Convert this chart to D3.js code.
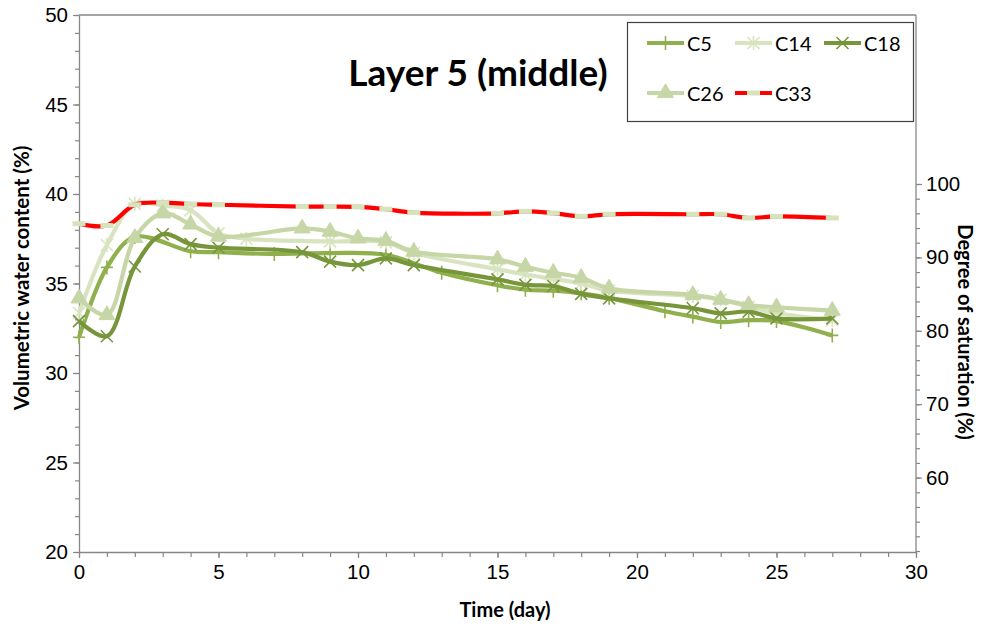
<!DOCTYPE html>
<html>
<head>
<meta charset="utf-8">
<script src="https://cdn.jsdelivr.net/npm/d3@7"></script>
<style>
  html, body { margin: 0; padding: 0; background: #ffffff; }
  svg { display: block; font-family: Lato, "Open Sans", sans-serif; }
</style>
</head>
<body>
<svg id="chart" width="988" height="627"></svg>
<script>
// Sensor series: measurement day and volumetric water content (%)
const c5Days  = [0, 1, 2, 4, 5, 7, 9, 11, 13, 15, 16, 17, 18, 19, 21, 22, 23, 24, 25, 27];
const c5Vals  = [32.0, 35.9, 37.6, 36.8, 36.75, 36.65, 36.7, 36.6, 35.6, 34.9, 34.65, 34.6, 34.45, 34.2, 33.45, 33.15, 32.85, 32.95, 32.9, 32.1];

const c14Days = [0, 1, 2, 3, 4, 5, 6, 9, 11, 12, 15, 16, 17, 18, 19, 22, 23, 24, 25, 27];
const c14Vals = [33.35, 37.15, 39.45, 39.35, 39.1, 37.8, 37.5, 37.35, 37.3, 36.7, 35.8, 35.5, 35.25, 35.0, 34.6, 34.3, 34.1, 33.7, 33.35, 32.95];

const c18Days = [0, 1, 2, 3, 4, 5, 8, 9, 10, 11, 12, 15, 16, 17, 18, 19, 22, 23, 24, 25, 27];
const c18Vals = [32.9, 32.05, 35.95, 37.75, 37.2, 37.0, 36.75, 36.22, 36.03, 36.4, 36.03, 35.23, 34.92, 34.86, 34.42, 34.17, 33.62, 33.33, 33.43, 33.05, 33.05];

const c26Days = [0, 1, 2, 3, 4, 5, 8, 9, 10, 11, 12, 15, 16, 17, 18, 19, 22, 23, 24, 25, 27];
const c26Vals = [34.17, 33.24, 37.55, 38.92, 38.3, 37.62, 38.08, 37.9, 37.52, 37.39, 36.78, 36.35, 35.94, 35.6, 35.32, 34.73, 34.36, 34.1, 33.8, 33.67, 33.48];

const c33Days = [0, 1, 2, 3, 4, 5, 8, 9, 10, 11, 12, 15, 16, 17, 18, 19, 22, 23, 24, 25, 27];
const c33Vals = [38.34, 38.24, 39.4, 39.52, 39.44, 39.4, 39.3, 39.3, 39.28, 39.15, 38.96, 38.92, 39.03, 38.93, 38.75, 38.87, 38.87, 38.87, 38.66, 38.75, 38.66];

const seriesNames = ["C5", "C14", "C18", "C26", "C33"];

// Axis ticks
const xTicks = [0, 5, 10, 15, 20, 25, 30];
const yTicks = [20, 25, 30, 35, 40, 45, 50];
const yRightTicks = [60, 70, 80, 90, 100];

const titleText = "Layer 5 (middle)";
const xTitle = "Time (day)";
const yTitle = "Volumetric water content (%)";
const yRightTitle = "Degree of saturation (%)";

// ---- styling ----
const styles = {
  C5:  { color: "#8fb04c", marker: "plus" },
  C14: { color: "#d8e4c0", marker: "star" },
  C18: { color: "#77963a", marker: "cross" },
  C26: { color: "#c6d6a6", marker: "triangle" },
  C33: { color: "#ff0000", marker: "dash", markerFill: "#d6e3bc" }
};

const series = [
  { name: "C5",  days: c5Days,  vals: c5Vals },
  { name: "C14", days: c14Days, vals: c14Vals },
  { name: "C18", days: c18Days, vals: c18Vals },
  { name: "C26", days: c26Days, vals: c26Vals },
  { name: "C33", days: c33Days, vals: c33Vals }
].map(s => ({ name: s.name, points: s.days.map((d, i) => ({ day: d, v: s.vals[i] })) }));

const svg = d3.select("#chart");
const plot = { left: 79, right: 916, top: 15, bottom: 552 };

const x = d3.scaleLinear().domain([0, 30]).range([plot.left, plot.right]);
const y = d3.scaleLinear().domain([20, 50]).range([plot.bottom, plot.top]);
const yR = d3.scaleLinear().domain([50, 100]).range([plot.bottom - 1, 184]);

const axisColor = "#878787";
const tickFont = "20.5px";

// top border of the plot area
svg.append("line")
  .attr("x1", plot.left).attr("x2", plot.right)
  .attr("y1", plot.top).attr("y2", plot.top)
  .attr("stroke", axisColor).attr("stroke-width", 1.3);

function styleAxis(g) {
  g.selectAll("path.domain").attr("stroke", axisColor).attr("stroke-width", 1.3);
  g.selectAll(".tick line").attr("stroke", axisColor).attr("stroke-width", 1.2);
  g.selectAll(".tick text").attr("fill", "#000").style("font-size", tickFont);
}

// minor ticks
svg.append("g").attr("transform", `translate(${plot.left},0)`)
  .call(d3.axisLeft(y).tickValues(d3.range(20, 51, 1)).tickSize(4).tickFormat(""))
  .call(g => g.select(".domain").remove())
  .call(styleAxis);
svg.append("g").attr("transform", `translate(0,${plot.bottom})`)
  .call(d3.axisBottom(x).tickValues(d3.range(0, 31, 1)).tickSize(5).tickFormat(""))
  .call(g => g.select(".domain").remove())
  .call(styleAxis);
svg.append("g").attr("transform", `translate(${plot.right},0)`)
  .call(d3.axisRight(yR).tickValues(d3.range(50, 101, 2)).tickSize(4).tickFormat(""))
  .call(g => g.select(".domain").remove())
  .call(styleAxis);

// major axes
svg.append("g").attr("transform", `translate(${plot.left},0)`)
  .call(d3.axisLeft(y).tickValues(yTicks).tickSize(6).tickSizeOuter(0).tickPadding(5))
  .call(styleAxis);
svg.append("g").attr("transform", `translate(0,${plot.bottom})`)
  .call(d3.axisBottom(x).tickValues(xTicks).tickSize(6).tickSizeOuter(0).tickPadding(6))
  .call(styleAxis);
svg.append("g").attr("transform", `translate(${plot.right},0)`)
  .call(d3.axisRight(yR).tickValues(yRightTicks).tickSize(6).tickSizeOuter(0).tickPadding(4))
  .call(g => g.select(".domain").remove())
  .call(styleAxis);
// right axis line spans the full plot height
svg.append("line")
  .attr("x1", plot.right).attr("x2", plot.right)
  .attr("y1", plot.top).attr("y2", plot.bottom)
  .attr("stroke", axisColor).attr("stroke-width", 1.3);

// ---- markers ----
function drawMarker(g, type, color, fill) {
  if (type === "plus") {
    g.append("path").attr("d", "M-6,0H6M0,-7V7").attr("stroke", color).attr("stroke-width", 1.6).attr("fill", "none");
  } else if (type === "cross") {
    g.append("path").attr("d", "M-6,-6L6,6M-6,6L6,-6").attr("stroke", color).attr("stroke-width", 1.6).attr("fill", "none");
  } else if (type === "star") {
    g.append("path").attr("d", "M-6,-6L6,6M-6,6L6,-6M0,-7V7").attr("stroke", color).attr("stroke-width", 1.6).attr("fill", "none");
  } else if (type === "triangle") {
    g.append("path").attr("d", d3.symbol(d3.symbolTriangle, 110)()).attr("fill", color).attr("stroke", color).attr("stroke-width", 1);
  } else if (type === "dash") {
    g.append("rect").attr("x", -6.5).attr("y", -2.5).attr("width", 13).attr("height", 5).attr("fill", fill);
  }
}

const line = d3.line()
  .x(d => x(d.day))
  .y(d => y(d.v))
  .curve(d3.curveCatmullRom.alpha(0.5));

const layer = svg.append("g");
series.forEach(s => {
  const st = styles[s.name];
  layer.append("path")
    .datum(s.points)
    .attr("d", line)
    .attr("fill", "none")
    .attr("stroke", st.color)
    .attr("stroke-width", 4.2)
    .attr("stroke-linejoin", "round");
  s.points.forEach(p => {
    const g = layer.append("g").attr("transform", `translate(${x(p.day)},${y(p.v)})`);
    drawMarker(g, st.marker, st.color, st.markerFill);
  });
});

// ---- title ----
svg.append("text")
  .attr("x", 478).attr("y", 86)
  .attr("text-anchor", "middle")
  .style("font-size", "37px").style("font-weight", "bold")
  .text(titleText);

// ---- axis titles ----
svg.append("text")
  .attr("x", 505).attr("y", 617)
  .attr("text-anchor", "middle")
  .style("font-size", "20px").style("font-weight", "bold")
  .text(xTitle);

svg.append("text")
  .attr("transform", "translate(29,278) rotate(-90)")
  .attr("text-anchor", "middle")
  .style("font-size", "20.5px").style("font-weight", "bold")
  .text(yTitle);

svg.append("text")
  .attr("transform", "translate(958,332) rotate(90)")
  .attr("text-anchor", "middle")
  .style("font-size", "20px").style("font-weight", "bold")
  .text(yRightTitle);

// ---- legend ----
const legend = svg.append("g");
legend.append("rect")
  .attr("x", 627.5).attr("y", 22.5).attr("width", 286).attr("height", 99)
  .attr("fill", "#fff").attr("stroke", "#404040").attr("stroke-width", 1.2);

const legendPos = [
  { x: 647, y: 43 }, { x: 735, y: 43 }, { x: 824, y: 43 },
  { x: 647, y: 93 }, { x: 735, y: 93 }
];
seriesNames.forEach((name, i) => {
  const st = styles[name];
  const p = legendPos[i];
  const g = legend.append("g").attr("transform", `translate(${p.x},${p.y})`);
  g.append("line").attr("x1", 0).attr("x2", 37).attr("y1", 0).attr("y2", 0)
    .attr("stroke", st.color).attr("stroke-width", 4.2);
  drawMarker(g.append("g").attr("transform", "translate(18.5,0)"), st.marker, st.color, st.markerFill);
  g.append("text").attr("x", 40).attr("y", 7.5)
    .style("font-size", "20px").text(name);
});
</script>
</body>
</html>
